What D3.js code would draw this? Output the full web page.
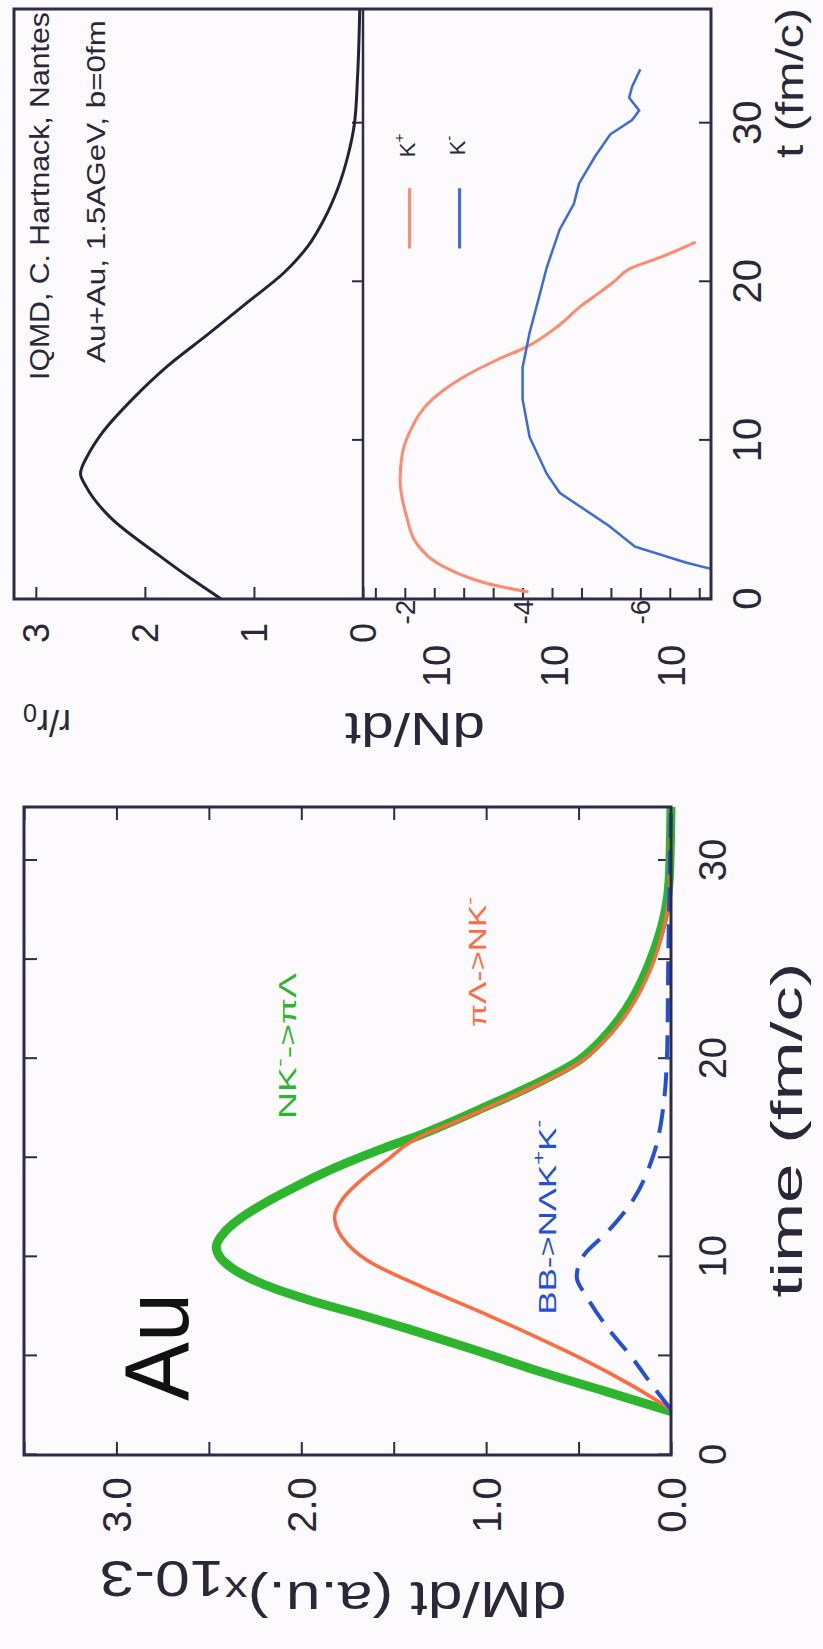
<!DOCTYPE html>
<html>
<head>
<meta charset="utf-8">
<script src="https://cdn.jsdelivr.net/npm/d3@7"></script>
<style>
  html, body { margin: 0; padding: 0; background: #fcfafc; }
  svg { display: block; }
  text { font-family: "Liberation Sans", Arial, sans-serif; }
</style>
</head>
<body>
<script>
// ---- data (t in fm/c) ----
// left figure: dM/dt (a.u. x10^-3)
const nkToPiLambda = [[2.2,0],[3.2,0.35],[4.3,0.74],[5.3,1.06],[6.3,1.40],[7.0,1.65],[7.8,1.95],[8.6,2.2],[9.4,2.37],[10.5,2.46],[11.3,2.41],[12.0,2.32],[12.7,2.20],[13.4,2.06],[14.1,1.91],[14.8,1.74],[15.5,1.55],[16.1,1.37],[16.8,1.19],[17.5,1.02],[18.6,0.76],[19.9,0.50],[21.0,0.37],[22.0,0.28],[23.0,0.21],[24.0,0.155],[25.0,0.11],[26.2,0.065],[27.5,0.03],[29.0,0.01],[32.7,0]];
const piLambdaToNK = [[2.3,0],[3.5,0.21],[4.8,0.47],[6.0,0.74],[7.3,1.05],[8.5,1.35],[9.8,1.64],[11.0,1.78],[12.0,1.82],[13.0,1.77],[14.0,1.66],[15.0,1.52],[15.6,1.44],[16.1,1.35],[16.8,1.17],[17.5,1.00],[18.6,0.74],[19.9,0.48],[21.0,0.35],[22.0,0.26],[23.0,0.19],[24.0,0.135],[25.0,0.09],[26.2,0.05],[27.5,0.02],[29.0,0.005],[32.7,0]];
const bbToNLKK = [[2.3,0],[3.5,0.10],[4.9,0.21],[6.5,0.35],[7.9,0.45],[9.0,0.51],[10.1,0.47],[11.2,0.35],[12.8,0.21],[15.0,0.10],[17.7,0.04],[20.7,0.02],[24.9,0.015],[30.3,0.005],[32.7,0]];

// right figure: density r/r0 and log10 of dN/dt
const density = [[0,1.30],[1.4,1.60],[2.8,1.88],[5.1,2.31],[7.1,2.54],[7.9,2.59],[9.1,2.52],[10.4,2.40],[12.7,2.10],[14.7,1.79],[16.7,1.42],[18.7,1.06],[20.6,0.72],[22.3,0.50],[23.9,0.36],[25.9,0.23],[27.9,0.14],[29.9,0.08],[32.9,0.05],[37.2,0.03]];
const kPlusLog = [[0.45,-4.1],[0.8,-3.6],[1.2,-3.2],[2.0,-2.68],[3.5,-2.2],[5.2,-2.03],[7.5,-1.92],[9.0,-1.95],[10.5,-2.08],[12.6,-2.47],[14.0,-3.0],[15.1,-3.58],[15.9,-4.07],[17.2,-4.6],[18.5,-5.0],[19.3,-5.3],[20.0,-5.55],[20.8,-5.81],[21.6,-6.38],[22.5,-6.94]];
const kMinusLog = [[1.9,-7.2],[2.3,-6.77],[3.3,-5.91],[4.6,-5.47],[5.9,-4.95],[6.7,-4.63],[7.9,-4.41],[10.2,-4.12],[12.6,-4.0],[14.6,-4.0],[16.8,-4.12],[18.9,-4.27],[20.9,-4.41],[23.3,-4.63],[24.9,-4.87],[26.2,-4.96],[27.9,-5.23],[29.3,-5.49],[30.2,-5.86],[30.8,-5.98],[31.6,-5.81],[32.3,-5.86],[33.4,-6.0]];

// ticks
const auTimeTicks = [0,5,10,15,20,25,30];
const auTimeLabels = [0,10,20,30];
const auRateTicks = [0,0.5,1,1.5,2,2.5,3,3.5];
const auRateLabels = [0,1,2,3];
const rTimeTicks = [0,10,20,30];
const rTicks = [0,1,2,3];
const logTicks = [-7,-6.5,-6,-5.5,-5,-4.5,-4,-3.5,-3,-2.5,-2,-1.5];
const logLabels = [-2,-4,-6];

const W = 823, H = 1649;
const ink = '#2a2838';
const frameCol = '#2d2a4a';

const svg = d3.select('body').append('svg').attr('width', W).attr('height', H);
svg.append('rect').attr('width', W).attr('height', H).attr('fill', '#fcfafc');

// the whole figure is turned a quarter turn counter-clockwise
const g = svg.append('g').attr('transform', `translate(0,${H}) rotate(-90)`);

function addText(parent, parts, X, Y, o) {
  const t = parent.append('text')
    .attr('font-size', o.size)
    .attr('fill', o.color || ink)
    .attr('text-anchor', o.anchor || 'middle')
    .attr('dominant-baseline', 'central');
  let cur = 0;
  parts.forEach(p => {
    const s = t.append('tspan').text(p.t);
    let want = 0;
    if (p.sup) { want = -o.size * 0.38; s.attr('font-size', o.size * 0.7); }
    if (p.sub) { want = o.size * (p.shift || 0.28); s.attr('font-size', o.size * (p.scale || 0.7)); }
    if (want !== cur) s.attr('dy', want - cur);
    cur = want;
  });
  const nat = t.node().getComputedTextLength();
  const k = o.len ? o.len / nat : (o.k || 1);
  t.attr('transform', `translate(${X},${Y}) rotate(${o.rot || 0}) scale(${k},1)`);
  return t;
}

function styleAxis(a) {
  a.select('.domain').remove();
  a.selectAll('line').attr('stroke', frameCol).attr('stroke-width', 2);
  a.attr('font-family', null);
}

// ================= left figure (Au) =================
const xT = d3.scaleLinear().domain([0, 32.7]).range([194, 842]);
const yM = d3.scaleLinear().domain([0, 3.5]).range([671, 24]);

const fmt1 = d => auRateLabels.includes(d) ? d3.format('.1f')(d) : '';

g.append('g').attr('transform', `translate(0,${yM(0)})`)
  .call(d3.axisBottom(xT).tickValues(auTimeTicks).tickSize(-13).tickSizeOuter(0)
    .tickFormat(d => auTimeLabels.includes(d) ? d : ''))
  .call(styleAxis)
  .call(a => a.selectAll('text').attr('y', 42).attr('dy', '0.35em')
    .attr('font-size', 38).attr('fill', ink));

g.append('g').attr('transform', `translate(0,${yM(3.5)})`)
  .call(d3.axisTop(xT).tickValues(auTimeTicks).tickSize(-13).tickSizeOuter(0).tickFormat(''))
  .call(styleAxis);

g.append('g').attr('transform', `translate(${xT(0)},0)`)
  .call(d3.axisLeft(yM).tickValues(auRateTicks).tickSize(-13).tickSizeOuter(0).tickFormat(fmt1))
  .call(styleAxis)
  .call(a => a.selectAll('text').attr('x', -50).attr('dy', '0.35em')
    .attr('text-anchor', 'middle').attr('font-size', 40).attr('fill', ink));

g.append('g').attr('transform', `translate(${xT(32.7)},0)`)
  .call(d3.axisRight(yM).tickValues(auRateTicks).tickSize(-13).tickSizeOuter(0).tickFormat(''))
  .call(styleAxis);

const lineAu = d3.line().x(d => xT(d[0])).y(d => yM(d[1])).curve(d3.curveMonotoneX);

g.append('path').datum(nkToPiLambda).attr('d', lineAu)
  .attr('fill', 'none').attr('stroke', '#2db52d').attr('stroke-width', 9).attr('stroke-linejoin', 'round');
g.append('path').datum(piLambdaToNK).attr('d', lineAu)
  .attr('fill', 'none').attr('stroke', '#ff6a40').attr('stroke-width', 3.5);
g.append('path').datum(bbToNLKK).attr('d', lineAu)
  .attr('fill', 'none').attr('stroke', '#2450d8').attr('stroke-width', 4)
  .attr('stroke-dasharray', '24,13');

g.append('rect').attr('x', xT(0)).attr('y', yM(3.5))
  .attr('width', xT(32.7) - xT(0)).attr('height', yM(0) - yM(3.5))
  .attr('fill', 'none').attr('stroke', frameCol).attr('stroke-width', 3);

addText(g, [{t: 'Au'}], 302, 157, {size: 90, len: 108, color: '#111'});
addText(g, [{t: 'NK'}, {t: '-', sup: true}, {t: '->πΛ'}], 603, 288, {size: 24, len: 146, color: '#2db52d'});
addText(g, [{t: 'πΛ->NK'}, {t: '-', sup: true}], 687, 478, {size: 24, len: 130, color: '#ff6a40'});
addText(g, [{t: 'BB->NΛK'}, {t: '+', sup: true}, {t: 'K'}, {t: '-', sup: true}], 432, 547, {size: 24, len: 195, color: '#2450d8'});

addText(g, [{t: 'time  (fm/c)'}], 519, 787, {size: 44, len: 335});
addText(g, [{t: 'dM/dt  (a.u.)'}, {t: 'x', sub: true, shift: 0.2, scale: 0.75}, {t: '10-3', sub: true, shift: 0.42, scale: 1}],
  49, 333, {size: 50, len: 467, rot: -90});

// ================= right figure (density and kaon rates) =================
const xU = d3.scaleLinear().domain([0, 37.2]).range([1050, 1640]);
const yR = d3.scaleLinear().domain([0, 3.2]).range([363, 14]);
const yN = d3.scaleLog().domain([Math.pow(10, -1.29), Math.pow(10, -7.2)]).range([363, 711]);

g.append('g').attr('transform', `translate(0,711)`)
  .call(d3.axisBottom(xU).tickValues(rTimeTicks).tickSize(-12).tickSizeOuter(0).tickFormat(d3.format('d')))
  .call(styleAxis)
  .call(a => a.selectAll('text').attr('y', 36).attr('dy', '0.35em')
    .attr('font-size', 40).attr('fill', ink));

g.append('g').attr('transform', `translate(0,363)`)
  .call(d3.axisBottom(xU).tickValues(rTimeTicks.slice(1)).tickSize(-11).tickSizeOuter(0).tickFormat(''))
  .call(styleAxis);

g.append('g').attr('transform', `translate(${xU(0)},0)`)
  .call(d3.axisLeft(yR).tickValues(rTicks).tickSize(-12).tickSizeOuter(0).tickFormat(d3.format('d')))
  .call(styleAxis)
  .call(a => a.selectAll('text').attr('x', -34).attr('dy', '0.35em')
    .attr('text-anchor', 'middle').attr('font-size', 36).attr('fill', ink));

g.append('g').attr('transform', `translate(${xU(0)},0)`)
  .call(d3.axisLeft(yN).tickValues(logTicks.map(e => Math.pow(10, e))).tickSize(-11).tickSizeOuter(0).tickFormat(''))
  .call(styleAxis);

logLabels.forEach(e => {
  const y = yN(Math.pow(10, e));
  addText(g, [{t: '10'}], xU(0) - 67, y + 32, {size: 38});
  addText(g, [{t: String(e)}], xU(0) - 13, y, {size: 28});
});

const lineR = d3.line().x(d => xU(d[0])).y(d => yR(d[1])).curve(d3.curveMonotoneX);
const lineN = d3.line().x(d => xU(d[0])).y(d => yN(Math.pow(10, d[1])));

g.append('path').datum(density).attr('d', lineR)
  .attr('fill', 'none').attr('stroke', '#262236').attr('stroke-width', 3);
g.append('path').datum(kPlusLog).attr('d', lineN.curve(d3.curveMonotoneX))
  .attr('fill', 'none').attr('stroke', '#ff8a6e').attr('stroke-width', 3);
g.append('path').datum(kMinusLog).attr('d', lineN.curve(d3.curveLinear))
  .attr('fill', 'none').attr('stroke', '#3c68e0').attr('stroke-width', 2.5);

g.append('rect').attr('x', xU(0)).attr('y', yR(3.2))
  .attr('width', xU(37.2) - xU(0)).attr('height', 711 - yR(3.2))
  .attr('fill', 'none').attr('stroke', frameCol).attr('stroke-width', 3);
g.append('line').attr('x1', xU(0)).attr('x2', xU(37.2)).attr('y1', 363).attr('y2', 363)
  .attr('stroke', frameCol).attr('stroke-width', 2.5);

// legend
const legend = [
  {name: 'K', sign: '+', exp: -2.08, color: '#ff8a6e'},
  {name: 'K', sign: '-', exp: -2.93, color: '#3c68e0'}
];
legend.forEach(l => {
  const y = yN(Math.pow(10, l.exp));
  g.append('line').attr('x1', xU(22.1)).attr('x2', xU(25.9)).attr('y1', y).attr('y2', y)
    .attr('stroke', l.color).attr('stroke-width', 3);
  addText(g, [{t: l.name}, {t: l.sign, sup: true}], xU(28.6), y - 3, {size: 22});
});

addText(g, [{t: 'IQMD, C. Hartnack, Nantes'}], 1269, 40, {size: 27, k: 1.12, anchor: 'start'});
addText(g, [{t: 'Au+Au, 1.5AGeV, b=0fm'}], 1286, 96, {size: 26, len: 343, anchor: 'start'});
addText(g, [{t: 't  (fm/c)'}], 1491, 790, {size: 38, len: 150, anchor: 'start'});
addText(g, [{t: 'r/r'}, {t: '0', sub: true}], 926, 47, {size: 36, rot: -90});
addText(g, [{t: 'dN/dt'}], 919, 415, {size: 46, len: 140, rot: -90});
</script>
</body>
</html>
